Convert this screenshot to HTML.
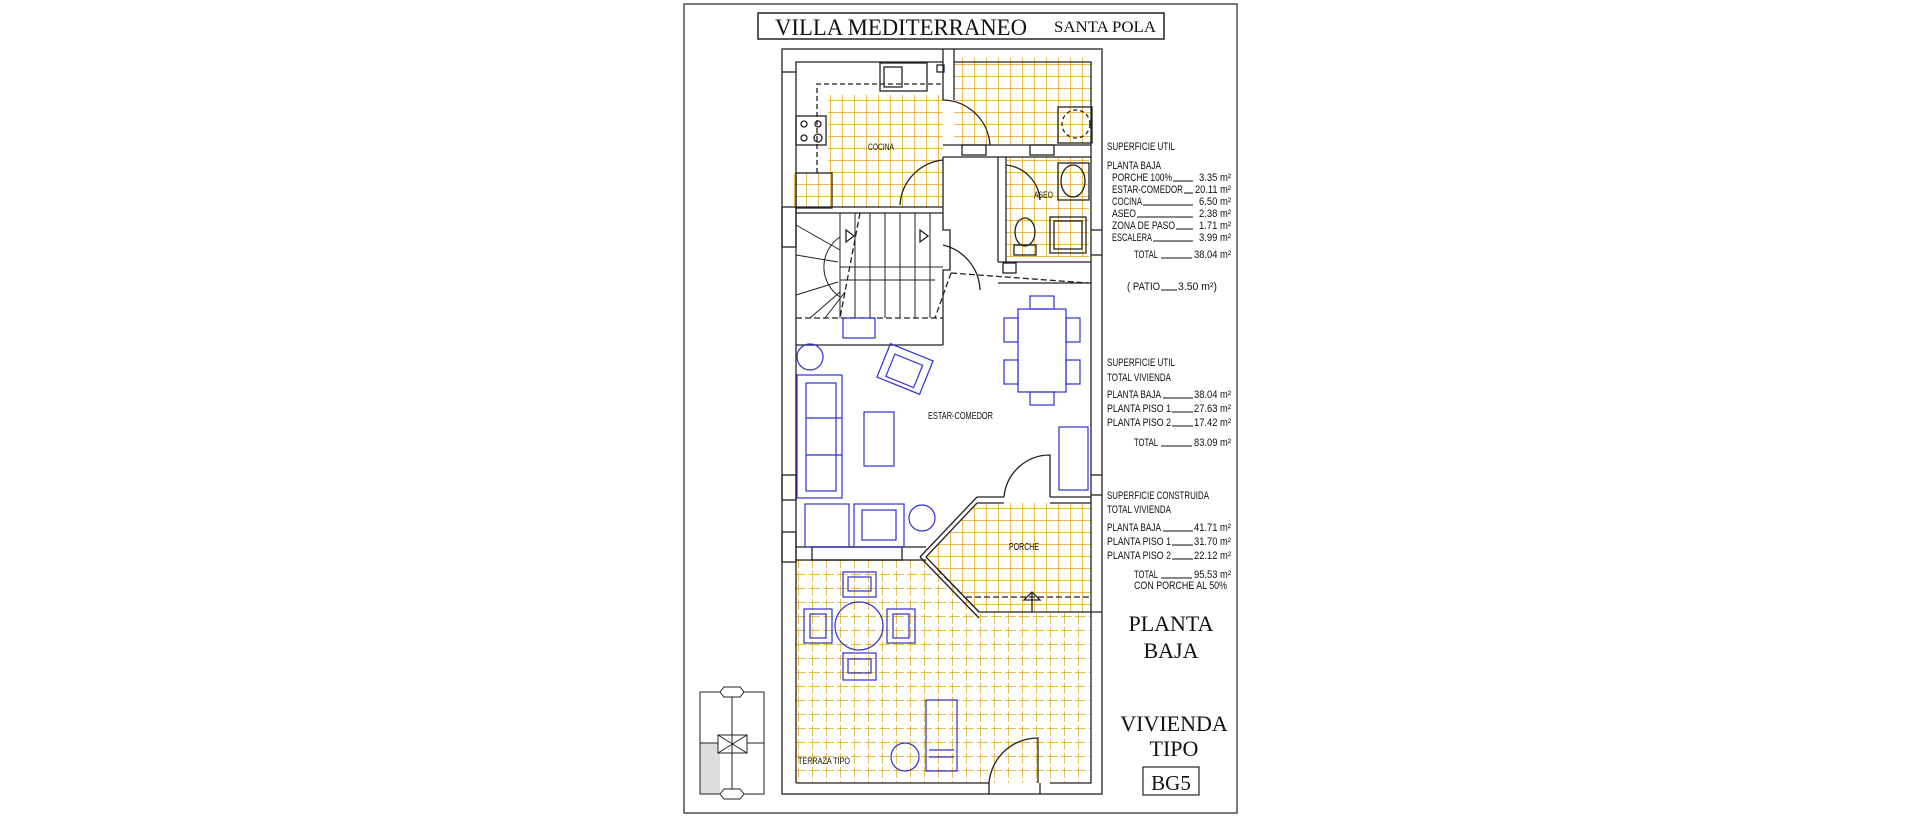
<!DOCTYPE html>
<html><head><meta charset="utf-8"><style>
html,body{margin:0;padding:0;background:#fff;width:1920px;height:820px;overflow:hidden}
svg{display:block}
.t{font-family:"Liberation Sans",sans-serif;font-size:11px;fill:#111}
.s{font-family:"Liberation Serif",serif;fill:#111}
</style></head><body>
<svg width="1920" height="820" viewBox="0 0 1920 820" xmlns="http://www.w3.org/2000/svg">
<defs>
<pattern id="g" width="12" height="12" patternUnits="userSpaceOnUse" x="2" y="4">
<path d="M0 0H12M0 0V12" stroke="#dfa514" stroke-width="1.5" fill="none"/></pattern>
<pattern id="gt" width="14" height="14" patternUnits="userSpaceOnUse" x="0" y="0">
<path d="M0 0H14M0 0V14" stroke="#dfa514" stroke-width="1.4" stroke-dasharray="8 3" fill="none"/></pattern>
</defs>
<g fill="none" stroke="#222" stroke-width="1.2">
<rect x="684" y="4" width="553" height="809"/>
<rect x="758" y="13" width="406" height="26" stroke-width="1.5"/>
</g>
<text class="s" x="775" y="35" font-size="23" textLength="252" lengthAdjust="spacingAndGlyphs">VILLA MEDITERRANEO</text>
<text class="s" x="1054" y="32" font-size="16" textLength="102" lengthAdjust="spacingAndGlyphs">SANTA POLA</text>

<rect x="954" y="58" width="138" height="87" fill="url(#g)"/>
<rect x="828" y="95" width="115" height="113" fill="url(#g)"/>
<rect x="794" y="173" width="34" height="35" fill="url(#g)"/>
<rect x="1006" y="157" width="83" height="100" fill="url(#g)"/>
<polygon points="977,503 1091,503 1091,612 979,612 926,557" fill="url(#g)"/>
<polygon points="794,560 926,560 979,612 1091,612 1091,783 794,783" fill="url(#gt)"/>

<g fill="none" stroke="#222" stroke-width="1.3">
<rect x="782" y="49" width="320" height="745"/>
<polyline points="796,783 796,62 943,62"/>
<polyline points="954,62 1091,62 1091,783 1050,783"/>
<line x1="796" y1="783" x2="989" y2="783"/>
<line x1="989" y1="783" x2="989" y2="794"/><line x1="1040" y1="783" x2="1040" y2="794"/>
<line x1="943" y1="49" x2="943" y2="100"/><line x1="954" y1="49" x2="954" y2="100"/>
<line x1="782" y1="72" x2="796" y2="72"/>
<rect x="782" y="207" width="14" height="40"/>
<line x1="796" y1="207" x2="943" y2="207"/><line x1="796" y1="213" x2="943" y2="213"/>
<line x1="943" y1="145" x2="1091" y2="145"/><line x1="943" y1="157" x2="1091" y2="157"/>
<rect x="962" y="145" width="24" height="10"/><rect x="1030" y="145" width="24" height="10"/>
<polyline points="943,157 943,230 950,230 950,270 943,270 943,345"/>
<line x1="998" y1="157" x2="998" y2="262"/><line x1="1006" y1="157" x2="1006" y2="262"/>
<line x1="998" y1="262" x2="1091" y2="262"/><line x1="998" y1="283" x2="1091" y2="283"/>
<line x1="796" y1="345" x2="943" y2="345"/>
<line x1="796" y1="547" x2="926" y2="547"/><line x1="796" y1="560" x2="926" y2="560"/>
<rect x="812" y="547" width="90" height="13"/>
<line x1="977" y1="503" x2="1004" y2="503"/><line x1="1050" y1="503" x2="1091" y2="503"/>
<line x1="977" y1="497" x2="1004" y2="497"/><line x1="1050" y1="497" x2="1091" y2="497"/>
<line x1="977" y1="497" x2="920" y2="557"/><line x1="977" y1="503" x2="926" y2="557"/>
<line x1="926" y1="557" x2="979" y2="612"/><line x1="920" y1="557" x2="979" y2="618"/>
<line x1="979" y1="612" x2="1102" y2="612"/>
<line x1="1091" y1="495" x2="1102" y2="495"/><line x1="1091" y1="475" x2="1102" y2="475"/>
<line x1="1091" y1="255" x2="1102" y2="255"/><line x1="1091" y1="230" x2="1102" y2="230"/>
<rect x="782" y="475" width="14" height="25"/><rect x="782" y="532" width="14" height="30"/>
<path d="M943 100 A48 48 0 0 1 990 145"/>
<path d="M943 160 A48 48 0 0 0 900 205"/>
<path d="M943 245 A48 48 0 0 1 980 290"/>
<path d="M1004 497 A46 46 0 0 1 1050 455 V497"/>
<path d="M989 783 A49 49 0 0 1 1038 738 V783"/>
<path d="M1006 165 A38 38 0 0 1 1040 200"/>
<rect x="880" y="63" width="47" height="28"/><rect x="884" y="67" width="18" height="20"/>
<rect x="796" y="116" width="30" height="29"/>
<circle cx="804" cy="124" r="3"/><circle cx="818" cy="124" r="3"/><circle cx="804" cy="138" r="3"/><circle cx="818" cy="138" r="4"/>
<rect x="796" y="173" width="36" height="35"/>
<rect x="937" y="65" width="7" height="7"/>
<path d="M817 173 V84 H943" stroke-dasharray="5 3"/>
<rect x="1058" y="107" width="34" height="36"/>
<circle cx="1076" cy="124" r="14" stroke-dasharray="4 3"/>
<rect x="1058" y="163" width="31" height="37"/><ellipse cx="1073" cy="181" rx="12" ry="16"/>
<rect x="1014" y="245" width="22" height="10"/><ellipse cx="1025" cy="232" rx="10" ry="14"/>
<rect x="1050" y="217" width="36" height="36"/><rect x="1054" y="221" width="28" height="28"/>
<rect x="1003" y="263" width="13" height="10"/>
<line x1="796" y1="318" x2="943" y2="318" stroke-dasharray="6 3"/>
<g stroke-width="1">
<line x1="840" y1="213" x2="840" y2="318"/><line x1="855" y1="213" x2="855" y2="318"/><line x1="870" y1="213" x2="870" y2="318"/><line x1="885" y1="213" x2="885" y2="318"/><line x1="900" y1="213" x2="900" y2="318"/><line x1="915" y1="213" x2="915" y2="318"/><line x1="930" y1="213" x2="930" y2="318"/>
<line x1="840" y1="267" x2="943" y2="267"/><line x1="840" y1="280" x2="935" y2="280"/>
<path d="M840 237 A36 36 0 0 0 840 297"/>
<line x1="796" y1="225" x2="840" y2="250"/><line x1="796" y1="255" x2="838" y2="262"/><line x1="796" y1="295" x2="838" y2="282"/><line x1="810" y1="318" x2="840" y2="292"/><line x1="825" y1="318" x2="845" y2="292"/>
</g>
<path d="M846 230 l8 6 l-8 6 z M920 230 l8 6 l-8 6 z"/>
<line x1="860" y1="213" x2="840" y2="318" stroke-dasharray="6 3"/>
<line x1="951" y1="273" x2="1088" y2="283" stroke-dasharray="6 3"/>
<line x1="951" y1="273" x2="935" y2="318" stroke-dasharray="6 3"/>
<line x1="1032" y1="592" x2="1032" y2="612"/><path d="M1024 600 L1032 592 L1040 600 Z"/>
<line x1="938" y1="570" x2="979" y2="612" stroke-dasharray="6 3"/>
<line x1="966" y1="597" x2="1091" y2="597" stroke-dasharray="6 3"/>
</g>
<g fill="none" stroke="#3030d0" stroke-width="1.2">
<rect x="843" y="318" width="32" height="20"/>
<rect x="1018" y="309" width="48" height="83"/>
<rect x="1030" y="296" width="24" height="13"/><rect x="1030" y="392" width="24" height="13"/>
<rect x="1004" y="318" width="14" height="24"/><rect x="1004" y="360" width="14" height="24"/>
<rect x="1066" y="318" width="14" height="24"/><rect x="1066" y="360" width="14" height="24"/>
<circle cx="810" cy="357" r="13"/>
<g transform="rotate(22 905 369)"><rect x="882" y="351" width="46" height="36"/><rect x="890" y="359" width="30" height="24"/></g>
<rect x="797" y="375" width="45" height="123"/><rect x="806" y="383" width="30" height="108"/>
<line x1="806" y1="418" x2="842" y2="418"/><line x1="806" y1="455" x2="842" y2="455"/>
<rect x="864" y="412" width="30" height="54"/>
<rect x="1059" y="427" width="29" height="63"/>
<rect x="805" y="504" width="44" height="43"/>
<rect x="854" y="504" width="50" height="43"/><rect x="862" y="510" width="34" height="30"/>
<circle cx="922" cy="518" r="13"/>
<circle cx="859" cy="626" r="24"/>
<rect x="843" y="572" width="33" height="25"/><rect x="848" y="577" width="23" height="14"/>
<rect x="843" y="653" width="33" height="27"/><rect x="848" y="659" width="23" height="14"/>
<rect x="804" y="609" width="28" height="34"/><rect x="810" y="614" width="16" height="24"/>
<rect x="887" y="609" width="28" height="34"/><rect x="893" y="614" width="16" height="24"/>
<rect x="926" y="700" width="31" height="71"/><line x1="929" y1="750" x2="954" y2="750"/><line x1="929" y1="757" x2="954" y2="757"/>
<circle cx="905" cy="757" r="14"/>
</g>
<g class="t">
<text x="868" y="150" font-size="9" textLength="26" lengthAdjust="spacingAndGlyphs">COCINA</text>
<text x="1034" y="198" font-size="9" textLength="19" lengthAdjust="spacingAndGlyphs">ASEO</text>
<text x="928" y="419" font-size="10" textLength="65" lengthAdjust="spacingAndGlyphs">ESTAR-COMEDOR</text>
<text x="1009" y="550" font-size="10" textLength="30" lengthAdjust="spacingAndGlyphs">PORCHE</text>
<text x="798" y="764" font-size="9" textLength="52" lengthAdjust="spacingAndGlyphs">TERRAZA TIPO</text>
</g>
<g fill="none" stroke="#222" stroke-width="1">
<rect x="700" y="743" width="20" height="51" fill="#ddd" stroke="none"/>
<rect x="700" y="692" width="64" height="102"/>
<line x1="732" y1="688" x2="732" y2="798"/><line x1="700" y1="743" x2="764" y2="743"/>
<polygon points="720,692 724,687 740,687 744,692 740,697 724,697" fill="#fff"/>
<polygon points="720,794 724,789 740,789 744,794 740,799 724,799" fill="#fff"/>
<rect x="718" y="735" width="29" height="18" fill="#fff"/><path d="M718 735 L747 753 M747 735 L718 753 M732 735 V753"/>
</g>
<g stroke="#111" stroke-width="1">
<line x1="1173" y1="181" x2="1193" y2="181"/><line x1="1184" y1="193" x2="1193" y2="193"/>
<line x1="1143" y1="205" x2="1193" y2="205"/><line x1="1137" y1="217" x2="1193" y2="217"/>
<line x1="1176" y1="229" x2="1193" y2="229"/><line x1="1153" y1="241" x2="1193" y2="241"/>
<line x1="1161" y1="258" x2="1192" y2="258"/><line x1="1161" y1="290" x2="1177" y2="290"/>
<line x1="1163" y1="398" x2="1193" y2="398"/><line x1="1172" y1="412" x2="1193" y2="412"/><line x1="1172" y1="426" x2="1193" y2="426"/>
<line x1="1161" y1="446" x2="1192" y2="446"/>
<line x1="1163" y1="531" x2="1193" y2="531"/><line x1="1172" y1="545" x2="1193" y2="545"/><line x1="1172" y1="559" x2="1193" y2="559"/>
<line x1="1161" y1="578" x2="1192" y2="578"/>
</g>
<g class="t">
<text x="1107" y="150" textLength="68" lengthAdjust="spacingAndGlyphs">SUPERFICIE UTIL</text>
<text x="1107" y="169" textLength="54" lengthAdjust="spacingAndGlyphs">PLANTA BAJA</text>
<text x="1112" y="181" textLength="60" lengthAdjust="spacingAndGlyphs">PORCHE 100%</text>
<text x="1112" y="193" textLength="71" lengthAdjust="spacingAndGlyphs">ESTAR-COMEDOR</text>
<text x="1112" y="205" textLength="30" lengthAdjust="spacingAndGlyphs">COCINA</text>
<text x="1112" y="217" textLength="24" lengthAdjust="spacingAndGlyphs">ASEO</text>
<text x="1112" y="229" textLength="63" lengthAdjust="spacingAndGlyphs">ZONA DE PASO</text>
<text x="1112" y="241" textLength="40" lengthAdjust="spacingAndGlyphs">ESCALERA</text>
<text x="1134" y="258" textLength="24" lengthAdjust="spacingAndGlyphs">TOTAL</text>
<text x="1127" y="290" textLength="33" lengthAdjust="spacingAndGlyphs">( PATIO</text>
<text x="1178" y="290" textLength="39" lengthAdjust="spacingAndGlyphs">3.50 m²)</text>
<text x="1107" y="366" textLength="68" lengthAdjust="spacingAndGlyphs">SUPERFICIE UTIL</text>
<text x="1107" y="381" textLength="64" lengthAdjust="spacingAndGlyphs">TOTAL VIVIENDA</text>
<text x="1107" y="398" textLength="54" lengthAdjust="spacingAndGlyphs">PLANTA BAJA</text>
<text x="1107" y="412" textLength="64" lengthAdjust="spacingAndGlyphs">PLANTA PISO 1</text>
<text x="1107" y="426" textLength="64" lengthAdjust="spacingAndGlyphs">PLANTA PISO 2</text>
<text x="1134" y="446" textLength="24" lengthAdjust="spacingAndGlyphs">TOTAL</text>
<text x="1107" y="499" textLength="102" lengthAdjust="spacingAndGlyphs">SUPERFICIE CONSTRUIDA</text>
<text x="1107" y="513" textLength="64" lengthAdjust="spacingAndGlyphs">TOTAL VIVIENDA</text>
<text x="1107" y="531" textLength="54" lengthAdjust="spacingAndGlyphs">PLANTA BAJA</text>
<text x="1107" y="545" textLength="64" lengthAdjust="spacingAndGlyphs">PLANTA PISO 1</text>
<text x="1107" y="559" textLength="64" lengthAdjust="spacingAndGlyphs">PLANTA PISO 2</text>
<text x="1134" y="578" textLength="24" lengthAdjust="spacingAndGlyphs">TOTAL</text>
<text x="1134" y="589" textLength="93" lengthAdjust="spacingAndGlyphs">CON PORCHE AL 50%</text>
<text x="1199" y="181" textLength="32" lengthAdjust="spacingAndGlyphs">3.35 m²</text>
<text x="1195" y="193" textLength="36" lengthAdjust="spacingAndGlyphs">20.11 m²</text>
<text x="1199" y="205" textLength="32" lengthAdjust="spacingAndGlyphs">6.50 m²</text>
<text x="1199" y="217" textLength="32" lengthAdjust="spacingAndGlyphs">2.38 m²</text>
<text x="1199" y="229" textLength="32" lengthAdjust="spacingAndGlyphs">1.71 m²</text>
<text x="1199" y="241" textLength="32" lengthAdjust="spacingAndGlyphs">3.99 m²</text>
<text x="1194" y="258" textLength="37" lengthAdjust="spacingAndGlyphs">38.04 m²</text>
<text x="1194" y="398" textLength="37" lengthAdjust="spacingAndGlyphs">38.04 m²</text>
<text x="1194" y="412" textLength="37" lengthAdjust="spacingAndGlyphs">27.63 m²</text>
<text x="1194" y="426" textLength="37" lengthAdjust="spacingAndGlyphs">17.42 m²</text>
<text x="1194" y="446" textLength="37" lengthAdjust="spacingAndGlyphs">83.09 m²</text>
<text x="1194" y="531" textLength="37" lengthAdjust="spacingAndGlyphs">41.71 m²</text>
<text x="1194" y="545" textLength="37" lengthAdjust="spacingAndGlyphs">31.70 m²</text>
<text x="1194" y="559" textLength="37" lengthAdjust="spacingAndGlyphs">22.12 m²</text>
<text x="1194" y="578" textLength="37" lengthAdjust="spacingAndGlyphs">95.53 m²</text>
</g>
<g class="s" font-size="22" text-anchor="middle">
<text x="1171" y="631">PLANTA</text>
<text x="1171" y="658">BAJA</text>
<text x="1174" y="731">VIVIENDA</text>
<text x="1174" y="756">TIPO</text>
<text x="1171" y="790" font-size="21">BG5</text>
</g>
<rect x="1143" y="767" width="56" height="28" fill="none" stroke="#222" stroke-width="1.2"/>
</svg>
</body></html>
